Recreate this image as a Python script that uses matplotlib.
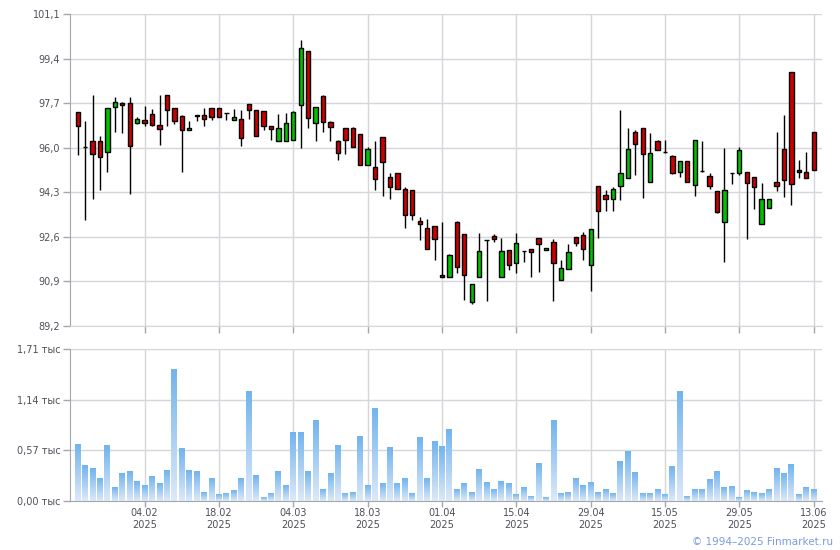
import numpy as np
import matplotlib.pyplot as plt
from matplotlib.colors import LinearSegmentedColormap

# OHLC (one candle per trading day)
opens = [97.36, 96.04, 96.26, 96.26, 95.84, 97.55, 97.71, 97.71, 96.94, 97.07,
         97.29, 96.87, 98.01, 97.51, 97.21, 96.68, 97.25, 97.25, 97.51, 97.51,
         97.32, 97.06, 97.11, 97.67, 97.44, 97.40, 96.83, 96.26, 96.26, 96.28,
         97.62, 99.69, 96.94, 97.97, 96.98, 96.26, 96.75, 96.75, 96.52, 95.34,
         95.26, 96.41, 94.88, 95.04, 94.43, 94.39, 93.20, 92.94, 93.02, 91.15,
         91.07, 93.17, 92.71, 90.12, 91.07, 92.49, 92.63, 91.07, 92.10, 91.60,
         92.06, 92.14, 92.56, 92.10, 92.40, 90.95, 91.37, 92.59, 92.67, 91.53,
         94.54, 94.20, 94.04, 94.54, 94.84, 96.60, 96.75, 94.69, 96.26, 95.84,
         95.68, 95.07, 95.49, 94.58, 95.11, 94.92, 94.35, 93.17, 95.04, 95.04,
         95.07, 94.88, 93.09, 93.70, 94.69, 95.95, 98.89, 95.15, 95.07, 96.60]
highs = [97.36, 97.01, 98.01, 96.45, 97.51, 97.93, 97.74, 97.93, 97.17, 97.59,
         97.48, 98.01, 98.01, 97.51, 97.25, 97.02, 97.25, 97.51, 97.51, 97.51,
         97.32, 97.48, 97.44, 97.67, 97.44, 97.40, 96.83, 97.29, 97.32, 97.40,
         100.11, 99.69, 97.55, 98.01, 97.02, 96.29, 96.75, 96.79, 96.52, 96.03,
         96.26, 96.41, 95.04, 95.04, 94.50, 94.39, 93.36, 93.28, 93.02, 93.17,
         91.95, 93.20, 92.71, 90.80, 92.75, 92.49, 92.71, 92.56, 92.10, 92.75,
         92.06, 92.14, 92.56, 92.18, 92.52, 91.72, 92.33, 92.59, 92.79, 92.90,
         94.54, 94.39, 94.50, 97.44, 96.75, 96.68, 96.75, 96.56, 96.29, 96.29,
         95.72, 95.49, 95.49, 96.29, 96.26, 95.04, 94.35, 95.99, 95.04, 96.03,
         95.07, 94.88, 94.65, 94.04, 96.60, 97.25, 98.89, 95.53, 95.84, 96.60]
lows = [95.73, 93.23, 94.03, 94.37, 95.06, 96.59, 96.55, 94.22, 96.89, 96.82,
        96.82, 96.09, 96.82, 96.89, 95.06, 96.68, 97.02, 96.82, 97.06, 97.17,
        97.06, 97.06, 96.05, 97.10, 96.45, 96.68, 96.28, 96.26, 96.26, 96.28,
        95.99, 96.75, 96.24, 96.59, 96.24, 95.52, 95.75, 96.01, 95.34, 95.34,
        94.37, 94.15, 94.03, 94.43, 92.92, 93.24, 92.47, 92.14, 91.72, 91.07,
        91.07, 91.22, 90.18, 90.04, 91.07, 90.14, 92.40, 91.07, 91.34, 91.22,
        91.64, 91.07, 91.26, 92.10, 90.14, 90.95, 91.37, 92.25, 91.72, 90.52,
        92.56, 93.59, 93.59, 94.00, 94.84, 94.96, 94.08, 94.69, 95.91, 95.80,
        95.00, 94.88, 94.69, 94.15, 95.07, 94.43, 93.51, 91.64, 94.62, 94.96,
        92.52, 93.66, 93.09, 93.70, 94.35, 94.12, 93.81, 94.84, 94.84, 95.15]
closes = [96.82, 96.04, 95.76, 95.65, 97.51, 97.74, 97.62, 96.05, 97.11, 96.94,
          96.85, 96.70, 97.44, 97.02, 96.68, 96.75, 97.21, 97.10, 97.17, 97.17,
          97.32, 97.17, 96.37, 97.44, 96.45, 96.83, 96.70, 96.75, 96.94, 97.36,
          99.80, 97.13, 97.55, 96.97, 96.79, 95.79, 96.29, 96.01, 95.34, 95.95,
          94.81, 95.44, 94.50, 94.43, 93.43, 93.43, 93.09, 92.14, 92.52, 91.07,
          91.91, 91.45, 91.15, 90.80, 92.06, 92.49, 92.52, 92.06, 91.51, 92.37,
          92.06, 92.02, 92.33, 92.18, 91.60, 91.41, 92.02, 92.37, 92.14, 92.90,
          93.59, 94.04, 94.43, 95.04, 95.95, 96.14, 95.76, 95.80, 95.91, 95.84,
          95.04, 95.49, 94.69, 96.29, 95.11, 94.54, 93.55, 94.39, 95.04, 95.91,
          94.65, 94.50, 94.04, 94.04, 94.54, 94.77, 94.62, 95.07, 94.84, 95.15]

# volume, thousands
volumes = [0.631, 0.395, 0.361, 0.248, 0.620, 0.147, 0.304, 0.327, 0.214, 0.169,
           0.271, 0.192, 0.338, 1.477, 0.586, 0.338, 0.327, 0.101, 0.248, 0.068,
           0.079, 0.113, 0.248, 1.229, 0.282, 0.045, 0.079, 0.327, 0.169, 0.767,
           0.767, 0.327, 0.902, 0.135, 0.304, 0.620, 0.090, 0.101, 0.722, 0.169,
           1.037, 0.192, 0.598, 0.192, 0.248, 0.079, 0.710, 0.248, 0.665, 0.609,
           0.800, 0.124, 0.192, 0.101, 0.350, 0.203, 0.124, 0.225, 0.192, 0.068,
           0.147, 0.056, 0.417, 0.045, 0.902, 0.090, 0.101, 0.248, 0.180, 0.203,
           0.101, 0.135, 0.079, 0.440, 0.552, 0.316, 0.090, 0.090, 0.135, 0.068,
           0.383, 1.229, 0.056, 0.124, 0.124, 0.237, 0.327, 0.147, 0.158, 0.034,
           0.113, 0.101, 0.090, 0.135, 0.361, 0.304, 0.406, 0.068, 0.147, 0.135]

date_pos = [9, 19, 29, 39, 49, 59, 69, 79, 89, 99]
date_labels = ['04.02', '18.02', '04.03', '18.03', '01.04',
               '15.04', '29.04', '15.05', '29.05', '13.06']

price_ticks = [89.2, 90.9, 92.6, 94.3, 96.0, 97.7, 99.4, 101.1]
vol_ticks = [0.0, 0.57, 1.14, 1.71]

grid_col = '#d3d6da'
axis_col = '#a4a7ad'
txt_col = '#4f4f5a'

o = np.array(opens)
h = np.array(highs)
l = np.array(lows)
c = np.array(closes)
x = np.arange(len(o))

fig = plt.figure(figsize=(8.4, 5.5), dpi=100)
ax = fig.add_axes([70/840, 1-326/550, 752/840, 312/550])
axv = fig.add_axes([70/840, 1-501/550, 752/840, 152/550])

# candles: wicks first, bodies on top
ax.vlines(x, l, h, color='black', linewidth=1, zorder=2)
up = c >= o
cols = np.where(up, '#00c000', '#cc0000')
ax.bar(x, np.abs(c - o), bottom=np.minimum(o, c), width=0.58,
       color=cols, edgecolor='black', linewidth=1, zorder=3)

# volume bars with a vertical gradient
cmap = LinearSegmentedColormap.from_list('vol', ['#dde9f8', '#72b4ee'])
grad = np.linspace(0, 1, 100).reshape(-1, 1)
for i, v in enumerate(volumes):
    axv.imshow(grad, extent=(i - 0.4, i + 0.4, 0, v), origin='lower',
               aspect='auto', cmap=cmap, zorder=2, interpolation='bilinear')

for a in (ax, axv):
    a.set_xlim(-1.04, 100.12)
    a.set_xticks(date_pos)
    a.grid(True, color=grid_col, linewidth=1, zorder=0)
    a.set_axisbelow(True)
    a.spines['top'].set_visible(False)
    a.spines['right'].set_visible(False)
    a.spines['left'].set_color(axis_col)
    a.spines['bottom'].set_color(axis_col)
    a.tick_params(direction='out', length=5, width=1, color=axis_col,
                  labelsize=7, labelcolor=txt_col, pad=2)

ax.set_ylim(89.2, 101.1)
ax.set_yticks(price_ticks)
ax.set_yticklabels([f'{t:.1f}'.replace('.', ',') for t in price_ticks])
ax.set_xticklabels([])
ax.spines['bottom'].set_color(grid_col)

axv.set_ylim(0, 1.71)
axv.set_yticks(vol_ticks)
axv.set_yticklabels([f'{t:.2f}'.replace('.', ',') + ' тыс' for t in vol_ticks])
axv.set_xticklabels([d + '\n2025' for d in date_labels], linespacing=1.3)
axv.tick_params(axis='x', length=4, pad=1)

fig.text(0.992, 1-542/550, '© 1994–2025 Finmarket.ru', ha='right', va='center',
         color='#7b9ae2', fontsize=7.5)

fig.savefig('out.png', dpi=100)
